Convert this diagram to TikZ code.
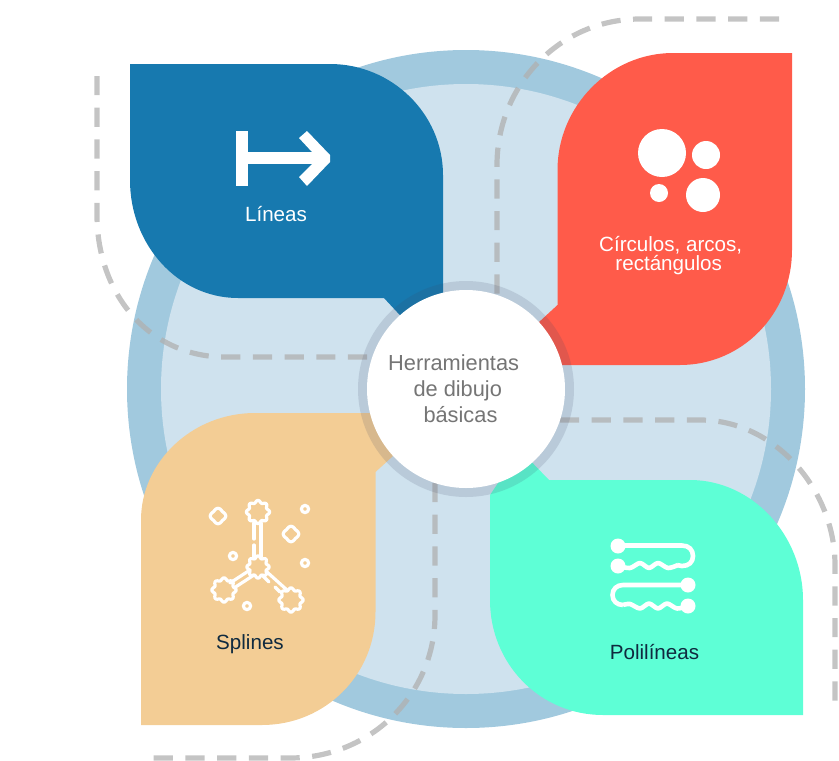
\documentclass[tikz,border=0pt]{standalone}
\usepackage{fontspec}
\setmainfont{Liberation Sans}
\definecolor{ringout}{HTML}{A1C9DE}
\definecolor{ringin}{HTML}{CFE2EE}
\definecolor{cblue}{HTML}{1779AF}
\definecolor{cred}{HTML}{FF5B4A}
\definecolor{cgreen}{HTML}{5EFFD6}
\definecolor{ctan}{HTML}{F3CD95}
\definecolor{halo}{HTML}{3C4664}
\definecolor{dashc}{HTML}{B0B0B0}
\definecolor{darktxt}{HTML}{0F2A3F}
\definecolor{midtxt}{HTML}{757575}
\tikzset{
  dashline/.style={draw=dashc,draw opacity=.75,line width=5.2pt,dash pattern=on 19.2pt off 12.5pt},
  iconline/.style={draw=white,line width=3.2pt,line cap=round,line join=round},
  thickicon/.style={draw=white,line width=4.6pt,line join=round},
  lab/.style={font=\fontsize{20.6}{24}\selectfont,anchor=base,inner sep=0pt,text=white},
}
\newcommand\blobshape[5]{% x y R amp lobes
  \draw[iconline] plot[domain=0:360,samples=73,smooth] ({#1+(#3+#4*cos(#5*\x))*cos(\x)},{#2+(#3+#4*cos(#5*\x))*sin(\x)}) -- cycle;
}
\begin{document}
\begin{tikzpicture}[x=1pt,y=-1pt]
\useasboundingbox (0,0) rectangle (839,761);
% rings
\fill[ringout] (466,389) circle (339);
\fill[ringin] (466,389) circle (305);
% dashed tracks
\draw[dashline] (779,19) -- (640,19) .. controls (560,19) and (497,85) .. (497,165) -- (497,294);
\draw[dashline] (97,76) -- (97,215) .. controls (97,295) and (150,357) .. (225,357) -- (372,357);
\draw[dashline] (560,420) -- (700,420) .. controls (775,420) and (835,490) .. (835,565) -- (835,702);
\draw[dashline] (435,483) -- (435,615) .. controls (435,695) and (370,758) .. (290,758) -- (153,758);
% petals
\fill[cblue] (130,64) -- (330,64) .. controls (392,64) and (443,114) .. (443,175) -- (443,310) -- (410,326) -- (384,298) -- (238,298) .. controls (178,298) and (130,245) .. (130,180) -- cycle;
\fill[cred] (792,53) -- (792,250) .. controls (792,314) and (742,365) .. (680,365) -- (552,365) -- (525,335) -- (557.5,305) -- (557.5,170) .. controls (557.5,106) and (610,53) .. (673,53) -- cycle;
\fill[cgreen] (803,715) -- (603,715) .. controls (540,715) and (490,664) .. (490,600) -- (490,495) -- (520,450) -- (549,480) -- (690,480) .. controls (752,480) and (803,535) .. (803,600) -- cycle;
\fill[ctan] (141,725) -- (141,520) .. controls (141,462) and (192,413) .. (255,413) -- (380,413) -- (405,445) -- (375.5,472) -- (375.5,612) .. controls (375.5,675) and (325,725) .. (262,725) -- cycle;
% hub
\fill[halo,fill opacity=.15] (466,389) circle (108);
\node[circle,fill=white,minimum size=198pt,inner sep=0pt] (hub) at (466,389) {};
\node[anchor=base west,inner sep=0pt,text=midtxt,font=\fontsize{21.8}{25.7}\selectfont,align=left] (hubtext) at (388,422) {Herramientas\\\hspace*{25.3pt}de dibujo\\\hspace*{35.3pt}básicas};
% labels
\node[lab] (lineas) at (276,221) {Líneas};
\node[lab] (circulos) at (670.7,251.7) {Círculos, arcos,};
\node[lab] (rect) at (668.7,270.7) {rectángulos};
\node[lab,text=darktxt] (splines) at (250,649) {Splines};
\node[lab,text=darktxt] (polilineas) at (654.5,659) {Polilíneas};
% line icon
\fill[white] (236,131) rectangle (248,186);
\fill[white] (248,152) rectangle (312,164);
\fill[white] (307,131) -- (330,155) -- (330,162) -- (307,186) -- (299,177) -- (312,164) -- (312,152) -- (299,138) -- cycle;
% circles icon
\fill[white] (662,153) circle (24);
\fill[white] (706,155) circle (14);
\fill[white] (659,193) circle (9);
\fill[white] (703,195) circle (17);
% spline icon
\blobshape{258}{512}{10.5}{1.2}{8}
\blobshape{258}{567}{10}{1.2}{8}
\blobshape{224}{590}{11}{1.2}{8}
\blobshape{291}{600}{11}{1.2}{8}
\blobshape{218}{516}{7}{.7}{4}
\blobshape{291}{534}{7}{.7}{4}
\draw[iconline] (305,509) circle (3.6);
\draw[iconline] (233,556) circle (3.6);
\draw[iconline] (305,563) circle (3.6);
\draw[iconline] (247,606) circle (3.6);
\draw[iconline] (254,523) -- (254,539) (254,545) -- (254,557);
\draw[iconline] (261,523) -- (261,557);
\draw[iconline] (230,583) -- (250,570) (234,588) -- (254,575);
\draw[iconline] (267,572) -- (287,590);
\draw[iconline] (263,576) -- (269,582) (275,587) -- (280,592);
% polyline icon
\fill[white] (618,546) circle (7.5);
\fill[white] (618,566) circle (7.5);
\fill[white] (688,585) circle (7.5);
\fill[white] (688,606) circle (7.5);
\draw[thickicon] (618,545.5) -- (682,545.5) .. controls (689,545.5) and (693,550) .. (693,556) .. controls (693,562) and (689,566) .. (682,566) -- (677,565);
\draw[thickicon] plot[smooth] coordinates {(678,565) (668,568) (658,563) (649,568) (640,563) (630,568) (618,566)};
\draw[thickicon] (688,585) -- (623,585) .. controls (617,585) and (612.5,589) .. (612.5,595) .. controls (612.5,601) and (617,605) .. (623,605);
\draw[thickicon] plot[smooth] coordinates {(623,605) (630,604) (640,608.5) (649,603.5) (658,608.5) (667,603.5) (677,608.5) (688,606)};
\end{tikzpicture}
\end{document}
